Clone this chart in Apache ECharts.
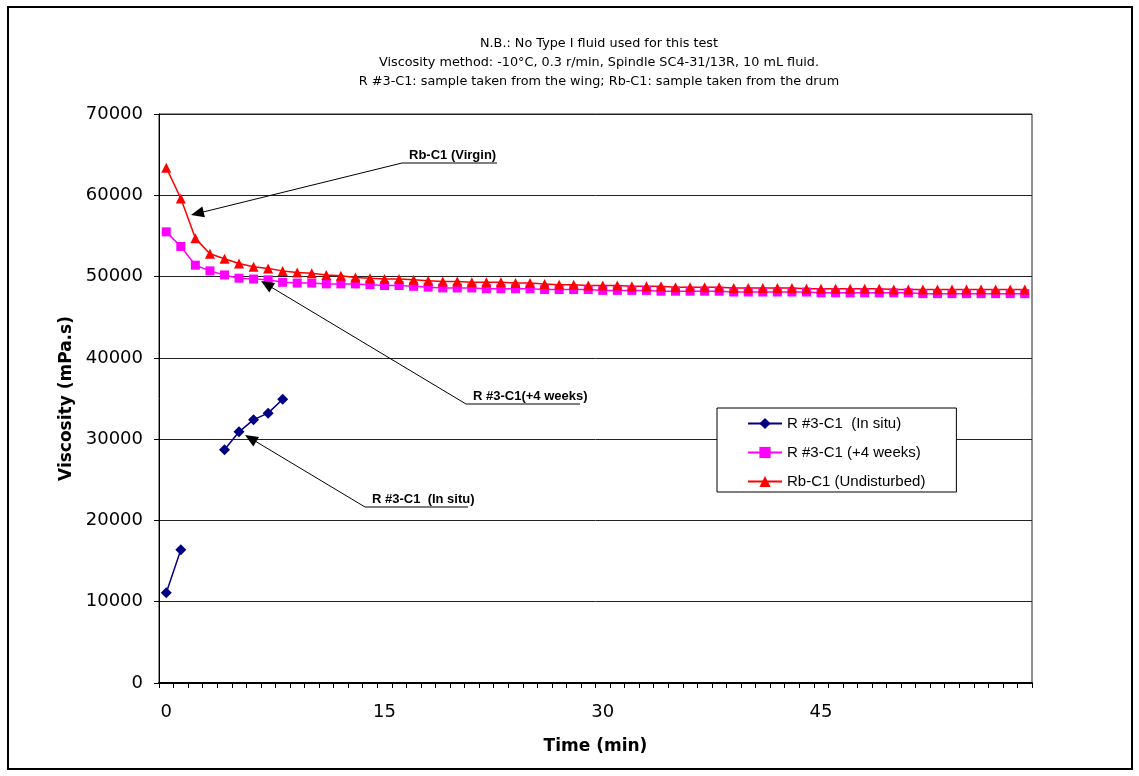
<!DOCTYPE html>
<html>
<head>
<meta charset="utf-8">
<script src="https://cdn.jsdelivr.net/npm/echarts@6/dist/echarts.min.js"></script>
<style>html,body{margin:0;padding:0;background:#fff}#c{width:1139px;height:776px}</style>
</head>
<body>
<div id="c"></div>
<script>
// ---- data ----
const times = [];
for (let t = 0; t < 60; t++) times.push(String(t));

const inSitu = [11100, 16400, null, null, 28700, 30900, 32400, 33200, 34900];

const weeks4 = [55500, 53700, 51400, 50700, 50200, 49800, 49700, 49600, 49300, 49200,
  49200, 49100, 49100, 49100, 49000, 48900, 48900, 48800, 48700, 48600,
  48600, 48600, 48500, 48500, 48500, 48500, 48400, 48400, 48400, 48400,
  48300, 48300, 48300, 48300, 48200, 48200, 48200, 48200, 48200, 48100,
  48100, 48100, 48100, 48100, 48100, 48000, 48000, 48000, 48000, 48000,
  48000, 48000, 47900, 47900, 47900, 47900, 47900, 47900, 47900, 47900];

const undisturbed = [63400, 59600, 54700, 52800, 52200, 51600, 51200, 51000, 50700, 50500,
  50400, 50200, 50100, 49900, 49800, 49700, 49700, 49600, 49500, 49400,
  49400, 49300, 49300, 49300, 49200, 49200, 49100, 49000, 49000, 48900,
  48900, 48900, 48800, 48800, 48800, 48700, 48700, 48700, 48700, 48600,
  48600, 48600, 48600, 48600, 48500, 48500, 48500, 48500, 48500, 48500,
  48400, 48400, 48400, 48400, 48400, 48400, 48400, 48400, 48400, 48400];

const seriesNames = ['R #3-C1  (In situ)', 'R #3-C1 (+4 weeks)', 'Rb-C1 (Undisturbed)'];
const titleLines = [
  'N.B.: No Type I fluid used for this test',
  'Viscosity method: -10°C, 0.3 r/min, Spindle SC4-31/13R, 10 mL fluid.',
  'R #3-C1: sample taken from the wing; Rb-C1: sample taken from the drum'
];
const annotations = [
  { text: 'Rb-C1 (Virgin)', lineStart: [497, 163], corner: [402, 163], tip: [191, 215] },
  { text: 'R #3-C1(+4 weeks)', lineStart: [580, 404], corner: [466, 404], tip: [261, 281] },
  { text: 'R #3-C1  (In situ)', lineStart: [468, 507], corner: [365, 507], tip: [245, 435] }
];

const ARIAL = '"Liberation Sans", Arial, sans-serif';
const WIDE = '"DejaVu Sans", Verdana, sans-serif';

function arrowGraphics(a) {
  const dx = a.tip[0] - a.corner[0], dy = a.tip[1] - a.corner[1];
  const len = Math.sqrt(dx * dx + dy * dy);
  const ux = dx / len, uy = dy / len;
  const L = 13, W = 11;
  const bx = a.tip[0] - ux * L, by = a.tip[1] - uy * L;
  const nx = -uy, ny = ux;
  return [
    { type: 'polyline', shape: { points: [a.lineStart, a.corner, [bx + ux * 2, by + uy * 2]] },
      style: { stroke: '#000', lineWidth: 1, fill: null }, z: 100 },
    { type: 'polygon', shape: { points: [a.tip, [bx + nx * W / 2, by + ny * W / 2], [bx - nx * W / 2, by - ny * W / 2]] },
      style: { fill: '#000' }, z: 100 },
    { type: 'text', x: a.corner[0] + 7, y: a.corner[1] - 1,
      style: { text: a.text, fill: '#000', font: 'bold 13px ' + ARIAL, textVerticalAlign: 'bottom' }, z: 100 }
  ];
}

let graphics = [
  { type: 'rect', shape: { x: 8, y: 7, width: 1124, height: 762 },
    style: { fill: null, stroke: '#000', lineWidth: 2 }, z: 100 }
];
annotations.forEach(a => { graphics = graphics.concat(arrowGraphics(a)); });

const chart = echarts.init(document.getElementById('c'), null, { renderer: 'canvas' });
chart.setOption({
  backgroundColor: '#fff',
  animation: false,
  title: {
    text: titleLines.join('\n'),
    left: 594, top: 29, textAlign: 'center',
    textStyle: { fontFamily: WIDE, fontSize: 12.8, fontWeight: 'normal', color: '#000', lineHeight: 19 }
  },
  grid: { left: 159, right: 107, top: 114, bottom: 93, show: true, borderColor: '#222', borderWidth: 1, backgroundColor: '#fff' },
  legend: {
    orient: 'vertical', left: 717, top: 408,
    data: seriesNames,
    backgroundColor: '#fff', borderColor: '#000', borderWidth: 1,
    padding: [8, 31, 3, 30], itemGap: 14, itemWidth: 34, itemHeight: 14,
    textStyle: { fontFamily: ARIAL, fontSize: 15, color: '#000' }
  },
  xAxis: {
    type: 'category', data: times, boundaryGap: true,
    name: 'Time (min)', nameLocation: 'middle', nameGap: 55,
    nameTextStyle: { fontFamily: WIDE, fontSize: 17, fontWeight: 'bold', color: '#000' },
    axisLine: { lineStyle: { color: '#000', width: 2 } },
    axisTick: { show: true, interval: 0, length: 5, lineStyle: { color: '#000' } },
    axisLabel: { interval: 14, margin: 20, fontFamily: WIDE, fontSize: 18, color: '#000' },
    splitLine: { show: false }
  },
  yAxis: {
    type: 'value', min: 0, max: 70000, interval: 10000,
    name: 'Viscosity (mPa.s)', nameLocation: 'middle', nameGap: 82, nameRotate: 90,
    nameTextStyle: { fontFamily: WIDE, fontSize: 17, fontWeight: 'bold', color: '#000' },
    axisLine: { show: true, lineStyle: { color: '#000', width: 1 } },
    axisTick: { show: true, length: 5, lineStyle: { color: '#000' } },
    axisLabel: { margin: 16, fontFamily: WIDE, fontSize: 18, color: '#000',
      formatter: v => String(v) },
    splitLine: { show: true, lineStyle: { color: '#222', width: 1 } }
  },
  series: [
    { name: seriesNames[0], type: 'line', data: inSitu, connectNulls: false,
      symbol: 'diamond', symbolSize: 11, showAllSymbol: true,
      itemStyle: { color: '#000080' }, lineStyle: { color: '#000080', width: 1.5 } },
    { name: seriesNames[1], type: 'line', data: weeks4,
      symbol: 'rect', symbolSize: 9, showAllSymbol: true,
      itemStyle: { color: '#FF00FF' }, lineStyle: { color: '#FF00FF', width: 1.5 } },
    { name: seriesNames[2], type: 'line', data: undisturbed,
      symbol: 'triangle', symbolSize: 10, showAllSymbol: true,
      itemStyle: { color: '#FF0000' }, lineStyle: { color: '#FF0000', width: 1.5 } }
  ],
  graphic: graphics
});
</script>
</body>
</html>
